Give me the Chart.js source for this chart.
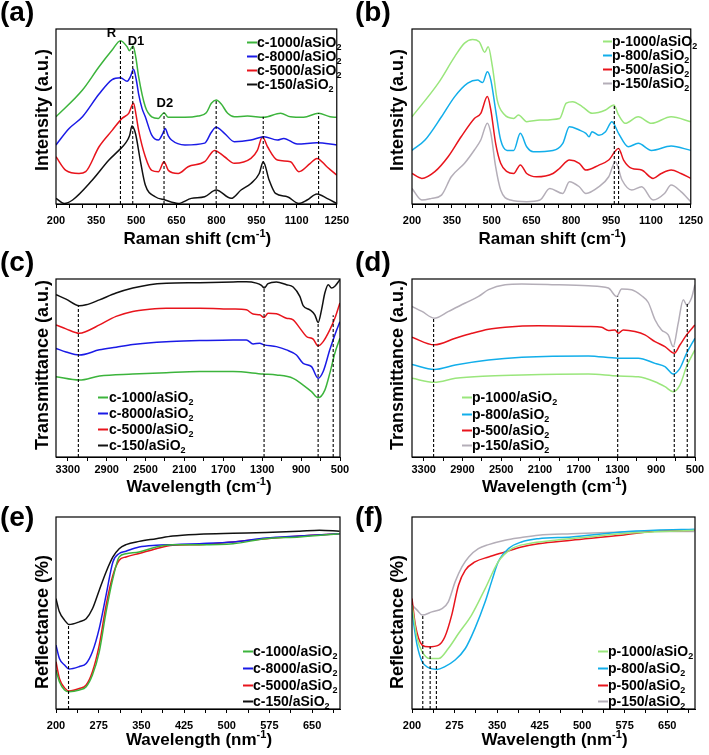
<!DOCTYPE html>
<html><head><meta charset="utf-8">
<script src="https://cdn.jsdelivr.net/npm/chart.js@4.4.1/dist/chart.umd.min.js"></script>
<style>
html,body{margin:0;padding:0;background:#fff;}
#wrap{position:relative;width:709px;height:755px;overflow:hidden;background:#fff;}
canvas{position:absolute;}
</style></head><body><div id="wrap"></div>
<script>
// ---------------- DATA ----------------
// (a) Raman, c-series
const ramanTicks = [200,250,300,350,400,450,500,550,600,650,700,750,800,850,900,950,1000,1050,1100,1150,1200,1250];
const ramanLabels = [200,350,500,650,800,950,1100,1250];
const a_c1000 = [[200,49.5],[299,64.2],[361,77],[410,86.2],[441,91.4],[466,88],[474,85.9],[488,88.4],[499,81.7],[509,71.6],[534,55],[558,49.5],[583,48.6],[595,50.5],[604,51.7],[620,49.2],[682,49.2],[731,49.9],[762,51.7],[781,56.9],[799,58.7],[818,56.5],[842,51.4],[867,49.5],[916,49.9],[978,49.2],[1040,51.4],[1077,49.5],[1126,49.2],[1182,51.4],[1225,49.5],[1250,49.2]];
const a_c8000 = [[200,34],[249,43],[299,49.5],[361,62],[410,70],[441,71],[466,69],[478,71.5],[490,75.6],[500,70],[509,62],[522,54],[534,49.5],[558,39.4],[583,36.7],[600,40.5],[608,43],[620,39],[632,36.7],[682,34],[756,35],[781,41],[799,43.7],[830,40.4],[867,35.8],[929,36.7],[978,38.5],[1028,36.7],[1052,37.6],[1102,34.5],[1176,35.2],[1250,34]];
const a_c5000 = [[200,27.5],[237,20],[286,18.3],[311,19.3],[361,33],[410,42],[447,48.6],[472,51.4],[490,57],[500,50],[509,42],[534,27.5],[558,20],[583,19.3],[604,24.8],[620,20],[657,18.3],[694,22],[756,24.8],[793,31],[830,27.5],[867,23.9],[929,26.6],[953,31],[972,38.5],[991,33],[1028,25.7],[1077,24.8],[1108,19.3],[1151,23.9],[1176,26.6],[1213,22],[1250,17.4]];
const a_c150 = [[200,4.6],[231,1.8],[262,3.7],[336,14.7],[398,25.7],[435,31],[460,35],[475,39],[484,44.4],[497,40.4],[515,25.7],[534,12],[571,5.5],[608,3.7],[657,1.8],[706,4.6],[756,5.5],[799,9.2],[855,4.6],[892,9.2],[929,12.8],[960,18.3],[975,24.8],[997,14.7],[1021,7.3],[1065,5.5],[1108,1.8],[1139,3.7],[1176,7],[1213,4.6],[1250,1.8]];
const a_dash = [[441,91.4],[487,88.4],[604,51.7],[799,58.7],[975,49.5],[1182,51.4]];
const a_notes = [["R",407,93.4],["D1",499,89],["D2",607,54.9]];

// (b) Raman, p-series
const b_p1000 = [[200,49.5],[299,68],[361,82.6],[398,90],[428,92],[453,90.8],[474,85],[487,88],[503,77],[521,58.7],[546,51],[583,48.6],[601,50.5],[632,46.8],[682,47.7],[756,48.6],[781,57],[805,57.8],[842,55],[879,51.4],[929,53.2],[960,56],[978,50.5],[1003,45.9],[1052,49.5],[1102,45.9],[1176,49.5],[1250,46.8]];
const b_p800 = [[200,31],[249,36.7],[311,49.5],[361,60.6],[410,68],[447,69.7],[466,68.3],[484,74.3],[497,69.7],[515,53.2],[534,36.7],[558,31],[583,31],[608,40.4],[632,33],[657,30.3],[731,31],[768,34.9],[793,44],[830,42.2],[855,40.4],[867,38.5],[878,41.3],[904,39.4],[929,41.3],[953,46.8],[978,40.4],[1015,33],[1052,34.9],[1102,31],[1176,33.4],[1250,31]];
const b_p500 = [[200,18.3],[237,15.6],[286,19.3],[336,27.5],[385,38.5],[435,48.6],[459,51.4],[484,60.6],[497,53.2],[515,34.9],[534,23.9],[558,19.3],[583,18.3],[608,23],[632,18.3],[669,16.5],[731,18.3],[756,21.1],[793,25.7],[830,23.9],[855,20.2],[904,22.9],[941,25.7],[978,32.1],[997,25.7],[1028,21.1],[1065,20.2],[1108,15.6],[1139,18.3],[1176,20.2],[1213,18.3],[1250,15.6]];
const b_p150 = [[200,10],[237,3.7],[274,4.6],[311,6.4],[348,16.5],[398,23.9],[435,31.2],[459,36.7],[484,46],[497,40.4],[515,22],[534,9.2],[571,3.7],[632,2.8],[682,3.7],[719,10],[768,7.3],[793,13.8],[830,11],[855,7.3],[904,11],[941,16.5],[966,24.8],[991,14.7],[1028,9.2],[1065,11],[1108,3.7],[1151,7.3],[1176,11.9],[1213,8.3],[1250,2.8]];
const b_dash = [[962,56],[978,32.1]];

// (c) FTIR, c-series
const irTicks = [500,700,900,1100,1300,1500,1700,1900,2100,2300,2500,2700,2900,3100,3300];
const irLabels = [3300,2900,2500,2100,1700,1300,900,500];
const c_c1000 = [[3421,45.1],[3181,43.2],[2974,45.5],[2631,46.6],[2287,47.4],[1944,48],[1600,48],[1291,46.6],[1154,46.1],[982,44.2],[879,40.4],[793,36.7],[725,33.3],[656,37.6],[605,47],[553,58.3],[501,66.7]];
const c_c8000 = [[3421,61],[3318,59],[3181,57.3],[2974,60.2],[2803,61.7],[2631,63.2],[2287,64.8],[1944,65.4],[1600,65.8],[1463,65.8],[1394,63.5],[1326,63.9],[1281,63],[1154,62],[1051,60.2],[948,57.3],[879,52.6],[793,50.8],[725,44.2],[673,48],[605,60.2],[553,68.6],[501,76]];
const c_c5000 = [[3421,74.2],[3318,72],[3181,69.5],[3112,70.5],[2974,74.2],[2803,79],[2631,81.8],[2459,83],[2287,83.6],[1944,83.6],[1600,83.1],[1463,82.7],[1394,80.3],[1326,79.9],[1281,78.4],[1240,80.8],[1154,80.5],[1051,78],[982,77.1],[913,72.4],[845,67.7],[776,66.2],[725,62.4],[673,64.8],[605,71.4],[553,77.9],[501,86.5]];
const c_c150 = [[3421,91.2],[3318,88.7],[3181,85],[3112,85.5],[2974,88.3],[2803,92.1],[2631,94.9],[2459,96.8],[2287,97.6],[1944,97.9],[1600,98.3],[1463,98.5],[1360,97.7],[1308,96.4],[1281,94.9],[1240,97.4],[1154,98.3],[1051,96.8],[982,95.5],[913,90.2],[879,85],[810,82.7],[759,79.9],[725,75.6],[690,82.7],[656,92.1],[621,96.8],[587,94.9],[553,95.9],[501,99.6]];
const c_dash = [[3191,85],[1281,95.9],[725,75.6],[570,79.7]];

// (d) FTIR, p-series
const d_p1000 = [[3421,44.2],[3191,42],[2974,44.2],[2631,45.5],[2287,46.1],[1600,46.6],[1291,45.5],[1085,45.1],[913,42.3],[810,39.5],[725,36.7],[656,40.4],[587,50.8],[501,60.2]];
const d_p800 = [[3421,52],[3191,49.2],[2974,51.7],[2631,54.5],[2287,56],[1600,56.8],[1291,55.5],[1085,55.5],[913,52.6],[810,50.8],[725,46.6],[656,49.8],[587,58.3],[501,66.7]];
const d_p500 = [[3421,67.3],[3191,63],[2974,66.7],[2803,69.5],[2631,71.8],[2459,72.9],[2116,73.7],[1600,73.3],[1463,72.9],[1394,71.1],[1326,71.4],[1291,69.5],[1240,71.4],[1120,70.5],[1017,68.6],[913,64.8],[810,62],[714,58.3],[656,62.9],[587,68.6],[501,74.2]];
const d_p150 = [[3421,84.6],[3318,81.8],[3191,78],[3043,81.8],[2871,86.5],[2734,90.2],[2631,94],[2459,96.8],[2287,97.2],[1944,96.8],[1600,96.2],[1394,94.9],[1308,90.2],[1257,94.4],[1154,94],[1051,90.6],[982,86.8],[913,77.1],[845,71.4],[776,68.6],[725,62],[673,75.2],[621,88.3],[587,85.5],[536,89.3],[501,96.8]];
const d_dash = [[3198,78],[1298,90.2],[714,62],[580,86.5]];

// (e) DRS, c-series
const uvTicks = [200,237.5,275,312.5,350,387.5,425,462.5,500,537.5,575,612.5,650,687.5];
const uvLabels = [200,275,350,425,500,575,650];
const e_c1000 = [[200,20.3],[206,14.2],[215,9.9],[223,9],[241,9.9],[253,11.6],[264,17.7],[276,29.8],[288,50.6],[300,68],[311,79.2],[323,80.9],[346,81.8],[376,84.4],[405,85.6],[452,85.6],[511,86.1],[569,88.7],[628,89.6],[698,91.3]];
const e_c8000 = [[200,33.3],[206,26.3],[215,22.9],[223,20.8],[241,22.1],[253,23.7],[264,29.8],[276,42],[288,59.3],[300,76.6],[311,81],[323,82.2],[346,84.4],[376,85.3],[405,85.6],[452,86.1],[511,87],[569,89],[628,90.1],[698,91.3]];
const e_c5000 = [[200,24.6],[206,15.9],[215,11],[223,9.4],[241,10.7],[253,12.5],[264,19.4],[276,33.3],[288,54],[300,69.7],[311,77.5],[323,79.2],[346,81],[376,83.5],[405,85.3],[452,85.6],[511,87],[569,88.7],[628,90.1],[698,91.3]];
const e_c150 = [[200,57.5],[206,50.6],[215,46.3],[223,44],[241,45.4],[253,47],[264,52.2],[276,61.9],[288,71.4],[300,79.2],[311,83.5],[323,85.6],[346,87.3],[376,88.7],[405,90.1],[452,91],[511,91.5],[569,91.9],[628,92.6],[663,93.1],[698,92.6]];
const e_dash = [[222,44]];

// (f) DRS, p-series
const f_p1000 = [[200,54.1],[209,36.9],[218,29.8],[232,26.3],[247,26.3],[264,31.5],[282,39.3],[305,48.9],[329,62.7],[352,76.6],[376,83.5],[405,86.1],[452,87.9],[511,89.6],[569,91.3],[698,93.1]];
const f_p800 = [[200,50.6],[209,33.3],[218,24.6],[229,21.5],[244,20.6],[258,22.1],[276,25.5],[294,31.5],[311,42],[329,55.8],[341,67],[352,76.6],[370,83.5],[393,87],[423,88.7],[481,89.6],[569,92.2],[628,93.1],[698,93.6]];
const f_p500 = [[200,57.5],[206,43.7],[218,33.3],[229,32.4],[247,33.3],[258,37.6],[270,48.9],[282,64.5],[294,72.3],[311,76.6],[335,79.2],[364,81.8],[393,84.4],[423,86.1],[481,87.9],[569,90.5],[628,92.6],[698,93.1]];
const f_p150 = [[200,54.1],[209,51.5],[218,48.9],[235,50.6],[253,52.3],[264,55.8],[276,66.2],[288,74],[300,79.2],[317,83.5],[335,85.6],[364,87.9],[393,89.3],[423,90.5],[481,91.3],[569,92.2],[628,92.5],[698,92.5]];
const f_dash = [[219,48.9],[232,32.4],[243,25.5]];

// ---------------- STYLE / LAYOUT ----------------
const FONT = '"Liberation Sans", Arial, Helvetica, sans-serif';
const COL = {green:'#3cb43c', blue:'#1a1ae6', red:'#e8141c', black:'#111111',
             lgreen:'#9ae67c', cyan:'#12aeea', gray:'#b4aeb8'};

function richParts(s){
  const out=[]; const re=/([_^])\{([^}]*)\}/g; let last=0,m;
  while((m=re.exec(s))){ if(m.index>last) out.push({t:s.slice(last,m.index),k:0}); out.push({t:m[2],k:m[1]==='_'?1:-1}); last=re.lastIndex; }
  if(last<s.length) out.push({t:s.slice(last),k:0});
  return out;
}
function drawRich(ctx,s,x,y,size,align){
  const parts=richParts(s); const F=sz=>`bold ${sz}px ${FONT}`; let w=0;
  parts.forEach(p=>{ctx.font=F(p.k?Math.round(size*0.64):size); p.w=ctx.measureText(p.t).width; w+=p.w;});
  let cx = align==='center'? x-w/2 : x;
  ctx.textAlign='left'; ctx.textBaseline='alphabetic'; ctx.fillStyle='#000';
  parts.forEach(p=>{ctx.font=F(p.k?Math.round(size*0.64):size); const dy=p.k===1?size*0.22:(p.k===-1?-size*0.40:0); ctx.fillText(p.t,cx,y+dy); cx+=p.w;});
}

const panels = [
 {lab:'(a)', left:0, top:0, w:355, h:250, area:{l:56,r:340,t:29,b:204}, x:[200,1250,false], y:[1.5,97.8],
  ticks:ramanTicks, labels:ramanLabels, tpad:6, xTitle:'Raman shift (cm^{-1})', xTy:244, yTitle:'Intensity (a.u.)', yTc:110,
  series:[['c-1000/aSiO_{2}',COL.green,a_c1000],['c-8000/aSiO_{2}',COL.blue,a_c8000],['c-5000/aSiO_{2}',COL.red,a_c5000],['c-150/aSiO_{2}',COL.black,a_c150]],
  dash:a_dash, notes:a_notes, leg:{x0:247,x1:257,tx:257,rows:[42,56,70,84]}},
 {lab:'(b)', left:355, top:0, w:354, h:250, area:{l:57,r:340,t:29,b:204}, x:[200,1250,false], y:[1.5,97.8],
  ticks:ramanTicks, labels:ramanLabels, tpad:6, xTitle:'Raman shift (cm^{-1})', xTy:244, yTitle:'Intensity (a.u.)', yTc:110,
  series:[['p-1000/aSiO_{2}',COL.lgreen,b_p1000],['p-800/aSiO_{2}',COL.cyan,b_p800],['p-500/aSiO_{2}',COL.red,b_p500],['p-150/aSiO_{2}',COL.gray,b_p150]],
  dash:b_dash, notes:[], leg:{x0:248,x1:257,tx:257,rows:[41,55,69,83]}},
 {lab:'(c)', left:0, top:250, w:355, h:255, area:{l:56,r:340,t:29,b:207}, x:[500,3421,true], y:[0,100],
  ticks:irTicks, labels:irLabels, tpad:2, xTitle:'Wavelength (cm^{-1})', xTy:242, yTitle:'Transmittance (a.u.)', yTc:115,
  series:[['c-1000/aSiO_{2}',COL.green,c_c1000],['c-8000/aSiO_{2}',COL.blue,c_c8000],['c-5000/aSiO_{2}',COL.red,c_c5000],['c-150/aSiO_{2}',COL.black,c_c150]],
  dash:c_dash, notes:[], leg:{x0:98,x1:108,tx:109,rows:[147,163,179,195]}},
 {lab:'(d)', left:355, top:250, w:354, h:255, area:{l:57,r:340,t:29,b:207}, x:[500,3421,true], y:[0,100],
  ticks:irTicks, labels:irLabels, tpad:2, xTitle:'Wavelength (cm^{-1})', xTy:242, yTitle:'Transmittance (a.u.)', yTc:115,
  series:[['p-1000/aSiO_{2}',COL.lgreen,d_p1000],['p-800/aSiO_{2}',COL.cyan,d_p800],['p-500/aSiO_{2}',COL.red,d_p500],['p-150/aSiO_{2}',COL.gray,d_p150]],
  dash:d_dash, notes:[], leg:{x0:107,x1:117,tx:117,rows:[147,164,180,195]}},
 {lab:'(e)', left:0, top:505, w:355, h:250, area:{l:56,r:340,t:12,b:204}, x:[200,699,false], y:[0,100],
  ticks:uvTicks, labels:uvLabels, tpad:6, xTitle:'Wavelength (nm^{-1})', xTy:240, yTitle:'Reflectance (%)', yTc:117,
  series:[['c-1000/aSiO_{2}',COL.green,e_c1000],['c-8000/aSiO_{2}',COL.blue,e_c8000],['c-5000/aSiO_{2}',COL.red,e_c5000],['c-150/aSiO_{2}',COL.black,e_c150]],
  dash:e_dash, notes:[], leg:{x0:243,x1:253,tx:253,rows:[146,163,180,196]}},
 {lab:'(f)', left:355, top:505, w:354, h:250, area:{l:57,r:340,t:12,b:204}, x:[200,699,false], y:[0,100],
  ticks:uvTicks, labels:uvLabels, tpad:6, xTitle:'Wavelength (nm^{-1})', xTy:240, yTitle:'Reflectance (%)', yTc:117,
  series:[['p-1000/aSiO_{2}',COL.lgreen,f_p1000],['p-800/aSiO_{2}',COL.cyan,f_p800],['p-500/aSiO_{2}',COL.red,f_p500],['p-150/aSiO_{2}',COL.gray,f_p150]],
  dash:f_dash, notes:[], leg:{x0:243,x1:253,tx:253,rows:[146,163,180,196]}}
];

const wrap=document.getElementById('wrap');
panels.forEach(P=>{
  const cv=document.createElement('canvas');
  cv.width=P.w; cv.height=P.h; cv.style.left=P.left+'px'; cv.style.top=P.top+'px';
  cv.style.width=P.w+'px'; cv.style.height=P.h+'px';
  wrap.appendChild(cv);
  const datasets=[];
  P.dash.forEach(d=>datasets.push({data:[[d[0],P.y[0]],[d[0],d[1]]],borderColor:'#000',borderWidth:1.1,borderDash:[3,2],pointRadius:0,order:-1,tension:0}));
  P.series.forEach(s=>datasets.push({label:s[0],data:s[2],borderColor:s[1],borderWidth:1.5,pointRadius:0,cubicInterpolationMode:'monotone',order:1}));
  const deco={id:'deco'+P.lab,
    afterDraw(chart){
      const ctx=chart.ctx, A=chart.chartArea, xs=chart.scales.x, ys=chart.scales.y;
      ctx.save();
      ctx.strokeStyle='#000'; ctx.lineWidth=1.2; ctx.strokeRect(A.left,A.top,A.right-A.left,A.bottom-A.top);
      ctx.fillStyle='#000'; ctx.font=`bold 28px ${FONT}`; ctx.textAlign='left'; ctx.textBaseline='alphabetic';
      ctx.fillText(P.lab,0,21);
      drawRich(ctx,P.xTitle,(A.left+A.right)/2+1,P.xTy,17,'center');
      ctx.save(); ctx.translate(48,P.yTc); ctx.rotate(-Math.PI/2);
      ctx.font=`bold 18px ${FONT}`; ctx.textAlign='center'; ctx.textBaseline='alphabetic'; ctx.fillStyle='#000';
      ctx.fillText(P.yTitle,0,0); ctx.restore();
      P.notes.forEach(n=>{ctx.font=`bold 13px ${FONT}`; ctx.textAlign='center'; ctx.textBaseline='alphabetic'; ctx.fillStyle='#000';
        ctx.fillText(n[0],xs.getPixelForValue(n[1]),ys.getPixelForValue(n[2]));});
      P.series.forEach((s,i)=>{const yy=P.leg.rows[i];
        ctx.strokeStyle=s[1]; ctx.lineWidth=2; ctx.setLineDash([]); ctx.beginPath(); ctx.moveTo(P.leg.x0,yy+0.5); ctx.lineTo(P.leg.x1,yy+0.5); ctx.stroke();
        drawRich(ctx,s[0],P.leg.tx,yy+5,14,'left');});
      ctx.restore();
    }};
  new Chart(cv,{type:'line',data:{datasets},
    options:{responsive:false,animation:false,devicePixelRatio:1,
      layout:{padding:{left:P.area.l,right:P.w-P.area.r,top:P.area.t,bottom:0}},
      plugins:{legend:{display:false},tooltip:{enabled:false}},
      scales:{
        x:{type:'linear',min:P.x[0],max:P.x[1],reverse:P.x[2],offset:false,
          afterBuildTicks:s=>{s.ticks=P.ticks.map(v=>({value:v}));},
          afterFit:s=>{s.height=P.h-P.area.b;},
          ticks:{autoSkip:false,maxRotation:0,padding:P.tpad,color:'#000',font:{family:FONT,size:11,weight:'bold'},
            callback:v=>P.labels.includes(v)?String(v):''},
          grid:{drawOnChartArea:false,drawTicks:true,tickLength:4,color:'#000',lineWidth:1},
          border:{display:true,color:'#000',width:1}},
        y:{type:'linear',display:false,min:P.y[0],max:P.y[1]}
      }},
    plugins:[deco]});
});
</script></body></html>
